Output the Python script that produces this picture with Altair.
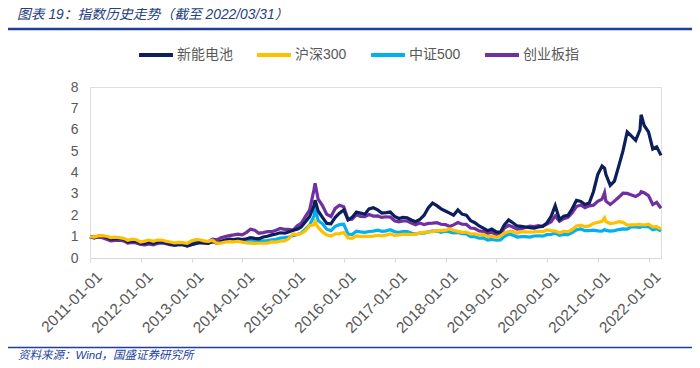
import pandas as pd
import altair as alt

SERIES = ["新能电池", "沪深300", "中证500", "创业板指"]
COLORS = ["#0C1F5C", "#FFC000", "#00B0F0", "#7030A0"]

# month-end values, Jan 2011 .. Mar 2022 (normalized, 2011-01-01 = 1)
nev = [
    0.98, 1.00, 1.02, 0.97, 0.88, 0.90, 0.92, 0.88, 0.76, 0.80, 0.78, 0.68,
    0.68, 0.74, 0.69, 0.74, 0.76, 0.71, 0.65, 0.61, 0.63, 0.62, 0.57, 0.62,
    0.68, 0.72, 0.70, 0.68, 0.76, 0.70, 0.78, 0.84, 0.88, 0.86, 0.90, 0.86,
    0.90, 0.95, 0.92, 0.90, 0.98, 1.02, 1.08, 1.12, 1.18, 1.16, 1.22, 1.30,
    1.35, 1.45, 1.70, 1.95, 2.45, 2.20, 1.90, 1.62, 1.60, 1.90, 2.10, 2.25,
    1.78, 1.90, 2.15, 2.10, 2.05, 2.30, 2.35, 2.25, 2.10, 2.12, 2.15, 1.95,
    1.85, 1.90, 1.88, 1.78, 1.70, 1.80, 2.00, 2.35, 2.57, 2.45, 2.30, 2.20,
    2.10, 2.00, 2.25, 2.05, 2.00, 1.75, 1.65, 1.50, 1.40, 1.28, 1.35, 1.22,
    1.20, 1.55, 1.78, 1.65, 1.50, 1.48, 1.45, 1.42, 1.40, 1.45, 1.48, 1.64,
    1.95, 2.45, 1.80, 1.95, 2.00, 2.30, 2.70, 2.65, 2.50, 2.57, 3.10, 3.90,
    4.30, 3.90, 3.40, 3.60, 4.30, 5.00, 5.90, 5.70, 5.50, 6.00, 6.20, 5.90,
    5.10, 5.20, 4.80,
]
hs300 = [
    0.98, 1.035, 1.046, 1.017, 0.954, 0.973, 0.946, 0.919, 0.83, 0.885, 0.855, 0.75,
    0.788, 0.84, 0.785, 0.84, 0.84, 0.787, 0.746, 0.705, 0.733, 0.72, 0.684, 0.806,
    0.859, 0.855, 0.80, 0.782, 0.827, 0.692, 0.70, 0.747, 0.77, 0.757, 0.783, 0.745,
    0.704, 0.696, 0.686, 0.69, 0.69, 0.692, 0.752, 0.747, 0.783, 0.80, 0.898, 1.13,
    1.098, 1.142, 1.274, 1.518, 1.548, 1.43, 1.22, 1.076, 1.024, 1.13, 1.14, 1.193,
    0.942, 0.92, 1.029, 1.009, 1.013, 1.008, 1.024, 1.064, 1.04, 1.067, 1.131, 1.058,
    1.083, 1.104, 1.105, 1.10, 1.116, 1.172, 1.195, 1.222, 1.227, 1.278, 1.281, 1.288,
    1.367, 1.286, 1.246, 1.20, 1.215, 1.122, 1.124, 1.066, 1.099, 1.008, 1.014, 0.963,
    1.024, 1.173, 1.238, 1.251, 1.16, 1.223, 1.226, 1.215, 1.22, 1.242, 1.224, 1.31,
    1.28, 1.26, 1.178, 1.251, 1.236, 1.331, 1.501, 1.54, 1.467, 1.50, 1.618, 1.666,
    1.711, 1.706, 1.614, 1.638, 1.705, 1.67, 1.538, 1.546, 1.556, 1.569, 1.545, 1.579,
    1.459, 1.464, 1.35,
]
csi500 = [
    0.95, 1.02, 1.03, 0.99, 0.90, 0.92, 0.93, 0.90, 0.78, 0.81, 0.80, 0.70,
    0.70, 0.77, 0.71, 0.76, 0.77, 0.73, 0.67, 0.63, 0.65, 0.64, 0.59, 0.67,
    0.73, 0.76, 0.73, 0.72, 0.80, 0.70, 0.75, 0.78, 0.83, 0.80, 0.83, 0.80,
    0.82, 0.84, 0.80, 0.78, 0.80, 0.82, 0.85, 0.87, 0.93, 0.95, 0.98, 1.04,
    1.10, 1.17, 1.35, 1.55, 1.95, 1.75, 1.60, 1.35, 1.28, 1.48, 1.56, 1.58,
    1.12, 1.10, 1.25, 1.22, 1.20, 1.24, 1.26, 1.30, 1.25, 1.27, 1.32, 1.23,
    1.20, 1.24, 1.23, 1.17, 1.12, 1.17, 1.16, 1.22, 1.26, 1.26, 1.20, 1.25,
    1.22, 1.18, 1.19, 1.14, 1.13, 1.00, 1.00, 0.93, 0.94, 0.84, 0.87, 0.83,
    0.85, 1.00, 1.12, 1.07, 0.98, 1.00, 1.00, 0.98, 1.03, 1.04, 1.02, 1.09,
    1.10, 1.17, 1.06, 1.10, 1.09, 1.19, 1.32, 1.36, 1.28, 1.28, 1.30, 1.27,
    1.26, 1.29, 1.26, 1.28, 1.33, 1.36, 1.35, 1.47, 1.45, 1.43, 1.47, 1.47,
    1.32, 1.37, 1.26,
]
cyb = [
    0.93, 0.98, 0.95, 0.88, 0.80, 0.82, 0.83, 0.80, 0.70, 0.73, 0.70, 0.64,
    0.61, 0.66, 0.62, 0.68, 0.71, 0.67, 0.62, 0.59, 0.63, 0.62, 0.56, 0.63,
    0.68, 0.74, 0.76, 0.76, 0.88, 0.85, 0.95, 1.00, 1.05, 1.08, 1.12, 1.08,
    1.20, 1.35, 1.30, 1.16, 1.19, 1.23, 1.23, 1.30, 1.38, 1.34, 1.34, 1.29,
    1.51, 1.62, 1.95, 2.25, 3.20, 2.75, 2.45, 2.04, 1.94, 2.32, 2.47, 2.40,
    1.80, 1.82, 2.02, 1.94, 1.93, 2.03, 1.96, 1.97, 1.90, 1.93, 1.92, 1.74,
    1.69, 1.73, 1.73, 1.64, 1.56, 1.64, 1.56, 1.62, 1.63, 1.65, 1.58, 1.56,
    1.47, 1.55, 1.66, 1.58, 1.57, 1.40, 1.38, 1.27, 1.24, 1.15, 1.20, 1.10,
    1.09, 1.40, 1.53, 1.45, 1.35, 1.37, 1.43, 1.49, 1.47, 1.51, 1.48, 1.59,
    1.70, 1.97, 1.72, 1.84, 1.90, 2.12, 2.41, 2.48, 2.35, 2.44, 2.47, 2.65,
    2.75, 2.66, 2.50, 2.66, 2.84, 3.03, 3.02, 2.95, 2.88, 3.00, 3.05, 2.92,
    2.50, 2.60, 2.33,
]

# extra intra-month points (start, peaks)
extra_dates = ["2011-01-01", "2015-06-08", "2021-02-18", "2021-11-08"]
extra_nev = [1.00, 2.70, 4.20, 6.70]
extra_hs300 = [1.00, 1.70, 1.88, 1.56]
extra_csi500 = [1.00, 2.40, 1.33, 1.48]
extra_cyb = [1.00, 3.50, 3.06, 3.10]

YEARS = list(range(2011, 2023))

month_ends = pd.date_range("2011-02-01", periods=len(nev), freq="MS") - pd.Timedelta(days=1)
dates = list(month_ends) + [pd.Timestamp(d) for d in extra_dates]
cols = [nev + extra_nev, hs300 + extra_hs300, csi500 + extra_csi500, cyb + extra_cyb]

rows = []
for name, vals in zip(SERIES, cols):
    for d, v in zip(dates, vals):
        rows.append({"series": name, "date": d, "value": v})
df = pd.DataFrame(rows).sort_values(["series", "date"])

W, H = 571, 171
FONT = "Liberation Sans, Noto Sans CJK SC, sans-serif"

lines = alt.Chart(df).mark_line(strokeWidth=3.2, interpolate="linear").encode(
    x=alt.X(
        "date:T",
        scale=alt.Scale(domain=[alt.DateTime(year=2011, month=1, date=1),
                                alt.DateTime(year=2022, month=3, date=31)], nice=False),
        axis=alt.Axis(
            title=None,
            values=[alt.DateTime(year=y, month=1, date=1) for y in YEARS],
            format="%Y-%m-%d",
            labelAngle=-45,
            labelFontSize=15.5,
            labelColor="#595959",
            labelFont=FONT,
            labelOverlap=False,
            labelBound=False,
            labelFlush=False,
            labelOffset=4,
            domainColor="#D9D9D9",
            tickColor="#D9D9D9",
            tickSize=4,
            grid=False,
            labelPadding=7,
        ),
    ),
    y=alt.Y(
        "value:Q",
        scale=alt.Scale(domain=[0, 8], nice=False),
        axis=alt.Axis(
            title=None,
            values=list(range(0, 9)),
            labelFontSize=14,
            labelColor="#595959",
            labelFont=FONT,
            domain=False,
            ticks=False,
            grid=False,
            labelPadding=12,
        ),
    ),
    color=alt.Color(
        "series:N",
        scale=alt.Scale(domain=SERIES, range=COLORS),
        sort=SERIES,
        legend=alt.Legend(
            title=None,
            orient="none",
            direction="horizontal",
            legendX=47,
            legendY=-51,
            symbolType="stroke",
            symbolSize=1150,
            symbolStrokeWidth=4,
            labelFontSize=14,
            labelColor="#595959",
            labelFont=FONT,
            columnPadding=16,
            labelOffset=2,
        ),
    ),
    detail="series:N",
)

title_df = pd.DataFrame({"t": ["图表 19：指数历史走势（截至 2022/03/31）"]})
title = alt.Chart(title_df).mark_text(
    align="left", baseline="middle", fontSize=13.8, fontStyle="italic",
    color="#24407F", font=FONT,
).encode(text="t:N", x=alt.value(-73), y=alt.value(-72))

src_df = pd.DataFrame({"t": ["资料来源：Wind，国盛证券研究所"]})
source = alt.Chart(src_df).mark_text(
    align="left", baseline="middle", fontSize=11.5, fontStyle="italic",
    color="#2443A0", font=FONT,
).encode(text="t:N", x=alt.value(-72), y=alt.value(269))

one = pd.DataFrame({"k": [0]})
top_rule = alt.Chart(one).mark_rule(color="#1F3D99", strokeWidth=2.5).encode(
    x=alt.value(-82), x2=alt.value(603), y=alt.value(-58))
bottom_rule = alt.Chart(one).mark_rule(color="#1F3D99", strokeWidth=1.3).encode(
    x=alt.value(-82), x2=alt.value(605), y=alt.value(260.5))

chart = alt.layer(lines, title, source, top_rule, bottom_rule).properties(
    width=W, height=H,
    autosize=alt.AutoSizeParams(type="none"),
    padding={"left": 82, "top": 79, "right": 31, "bottom": 106},
).configure_view(stroke=None).configure(background="white")

chart.save("out.html", embed_options={"renderer": "svg", "actions": False})
